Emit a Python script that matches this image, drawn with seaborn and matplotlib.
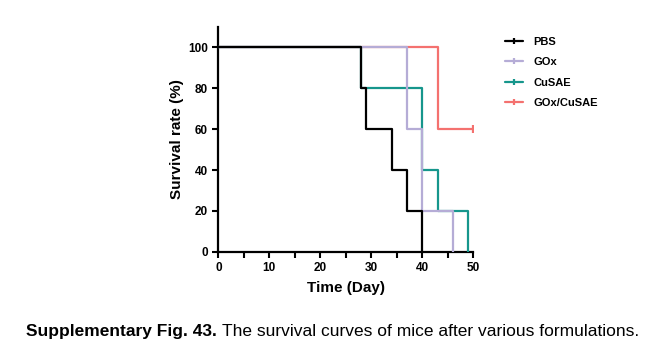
import matplotlib
matplotlib.use("Agg")
import matplotlib.pyplot as plt
from matplotlib.lines import Line2D
from matplotlib.ticker import MultipleLocator
import pandas as pd
import seaborn as sns

# Kaplan-Meier step points (day, survival %)
groups = ["PBS", "GOx", "CuSAE", "GOx/CuSAE"]
pbs_days = [0, 28, 29, 34, 37, 40]
pbs_surv = [100, 80, 60, 40, 20, 0]
gox_days = [0, 37, 40, 46]
gox_surv = [100, 60, 20, 0]
cusae_days = [0, 28, 40, 43, 49]
cusae_surv = [100, 80, 40, 20, 0]
combo_days = [0, 43, 50]
combo_surv = [100, 60, 60]

colors = {"PBS": "#000000", "GOx": "#b5acd6", "CuSAE": "#16968c", "GOx/CuSAE": "#f4716f"}

frames = []
for name, d, s in [("PBS", pbs_days, pbs_surv), ("GOx", gox_days, gox_surv),
                   ("CuSAE", cusae_days, cusae_surv), ("GOx/CuSAE", combo_days, combo_surv)]:
    frames.append(pd.DataFrame({"Day": d, "Survival": s, "Group": name}))
df = pd.concat(frames, ignore_index=True)

sns.set_theme(style="ticks")
plt.rcParams["font.family"] = ["Liberation Sans", "DejaVu Sans"]
plt.rcParams["text.color"] = "black"
plt.rcParams["axes.labelcolor"] = "black"

fig = plt.figure(figsize=(6.65, 3.56), dpi=100)
ax = fig.add_axes([0.3283, 0.293, 0.3835, 0.631])

# first group drawn on top, as in the original
for i, name in enumerate(reversed(groups)):
    sub = df[df["Group"] == name]
    sns.lineplot(data=sub, x="Day", y="Survival", ax=ax, color=colors[name],
                 drawstyle="steps-post", estimator=None, sort=False,
                 linewidth=1.6, zorder=2 + i, legend=False)

# censor tick at end of GOx/CuSAE curve
ax.plot([combo_days[-1]], [combo_surv[-1]], marker="|", markersize=6,
        markeredgewidth=1.6, color=colors["GOx/CuSAE"], zorder=3)

ax.set_xlim(0, 50)
ax.set_ylim(0, 110)
ax.set_xticks(range(0, 51, 10))
ax.xaxis.set_minor_locator(MultipleLocator(5))
ax.set_yticks(range(0, 101, 20))
ax.tick_params(axis="both", which="both", direction="out", length=4, width=1.5,
               labelsize=8.5, pad=3.5, colors="black")
for lbl in ax.get_xticklabels() + ax.get_yticklabels():
    lbl.set_fontweight("bold")
sns.despine(ax=ax)
for sp in ["left", "bottom"]:
    ax.spines[sp].set_linewidth(1.6)
    ax.spines[sp].set_color("black")
ax.set_xlabel("Time (Day)", fontsize=11, fontweight="bold", labelpad=5)
ax.set_ylabel("Survival rate (%)", fontsize=11, fontweight="bold", labelpad=3)

handles = [Line2D([0], [0], color=colors[g], lw=1.6, marker="|", markersize=5,
                  markeredgewidth=1.6) for g in groups]
leg = fig.legend(handles, groups, loc="upper left", bbox_to_anchor=(0.745, 0.925),
                 frameon=False, prop={"weight": "bold", "size": 8},
                 handlelength=1.6, handletextpad=0.9, labelspacing=0.95)

fig.text(217 / 665, 0.068, "Supplementary Fig. 43.", ha="right", va="center",
         fontsize=12.5, fontweight="bold", color="black")
fig.text(222 / 665, 0.068, "The survival curves of mice after various formulations.",
         ha="left", va="center", fontsize=12.5, color="black")

fig.savefig("out.png", dpi=100)
